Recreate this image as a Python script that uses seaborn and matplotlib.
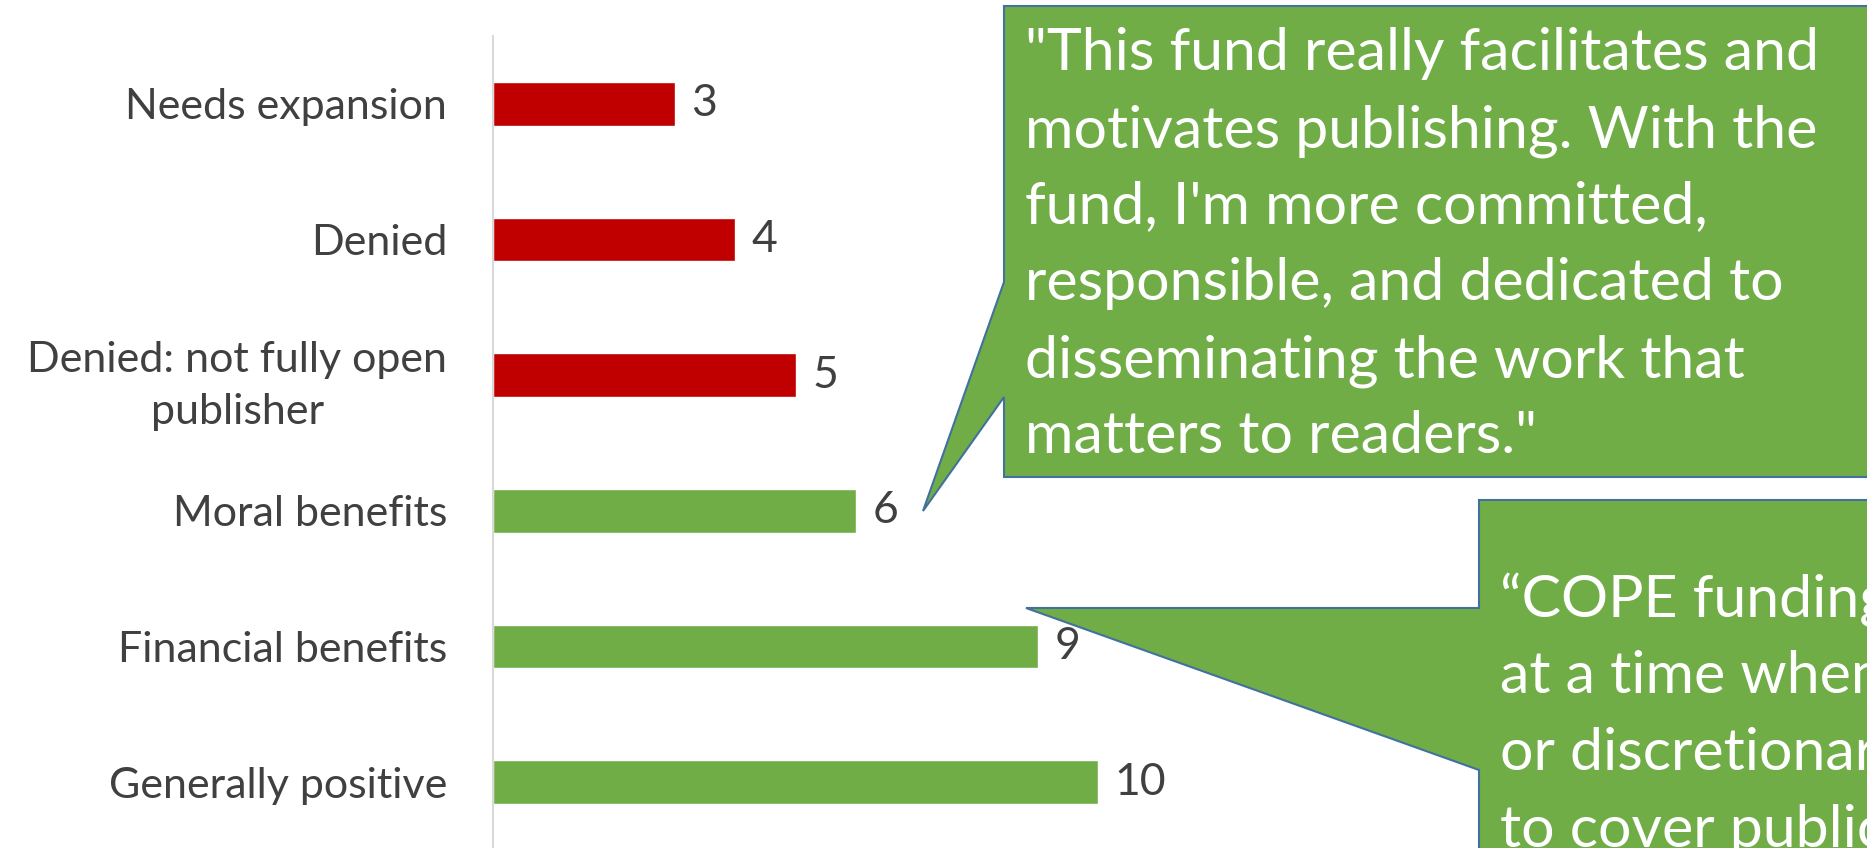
import matplotlib
matplotlib.use("Agg")
import matplotlib.pyplot as plt
from matplotlib.patches import Polygon
import seaborn as sns
import pandas as pd

# ---- data ----
categories = ["Needs expansion", "Denied", "Denied: not fully open\npublisher",
              "Moral benefits", "Financial benefits", "Generally positive"]
counts = [3, 4, 5, 6, 9, 10]
bar_colors = ["#C00000", "#C00000", "#C00000", "#70AD47", "#70AD47", "#70AD47"]

quote1_lines = ["\"This fund really facilitates and",
                "motivates publishing. With the",
                "fund, I'm more committed,",
                "responsible, and dedicated to",
                "disseminating the work that",
                "matters to readers.\""]
quote2_lines = ["\u201cCOPE funding was essential",
                "at a time when departmental",
                "or discretionary funds are scarce",
                "to cover publication costs."]

W, H = 1867, 848
sns.set_theme(style="white")
plt.rcParams["font.family"] = ["Lato", "DejaVu Sans"]

fig = plt.figure(figsize=(W / 100, H / 100), dpi=100)
ax = fig.add_axes([493 / W, -2 / H, 1 - 493 / W, 814 / H])

df = pd.DataFrame({"category": categories, "count": counts})
sns.barplot(data=df, y="category", x="count", hue="category", palette=bar_colors,
            orient="h", width=0.32, legend=False, ax=ax, saturation=1)

ax.set_xlim(0, (W - 493) / 60.5)
ax.set_ylim(5.5, -0.5)
ax.set_xlabel("")
ax.set_ylabel("")
ax.set_xticks([])
for s in ["top", "right", "bottom"]:
    ax.spines[s].set_visible(False)
ax.spines["left"].set_color("#D9D9D9")
ax.spines["left"].set_linewidth(1.5)
ax.tick_params(axis="y", length=0, pad=33, labelsize=31, labelcolor="#404040")
for lab in ax.get_yticklabels():
    lab.set_multialignment("center")
    lab.set_linespacing(1.45)

for cont in ax.containers:
    ax.bar_label(cont, padding=12, fontsize=32, color="#404040")


def P(x, y):
    return (x / W, 1 - y / H)


edge = "#41719C"
fill = "#70AD47"
c1 = [(1004, 6), (1950, 6), (1950, 477), (1004, 477), (1004, 397), (923, 511), (1004, 282)]
c2 = [(1479, 500), (1950, 500), (1950, 950), (1479, 950), (1479, 770), (1026, 608), (1479, 608)]
for pts in (c1, c2):
    fig.add_artist(Polygon([P(*p) for p in pts], closed=True, facecolor=fill,
                           edgecolor=edge, linewidth=1.5, transform=fig.transFigure,
                           zorder=5))

base1 = [70, 147, 223, 300, 377, 453]
for y, t in zip(base1, quote1_lines):
    fig.text(*P(1025, y), t, color="white", fontsize=42.5, ha="left", va="baseline", zorder=6)
base2 = [617, 693, 770, 847]
for y, t in zip(base2, quote2_lines):
    fig.text(*P(1500, y), t, color="white", fontsize=42.5, ha="left", va="baseline", zorder=6)

fig.savefig("out.png", dpi=100)
